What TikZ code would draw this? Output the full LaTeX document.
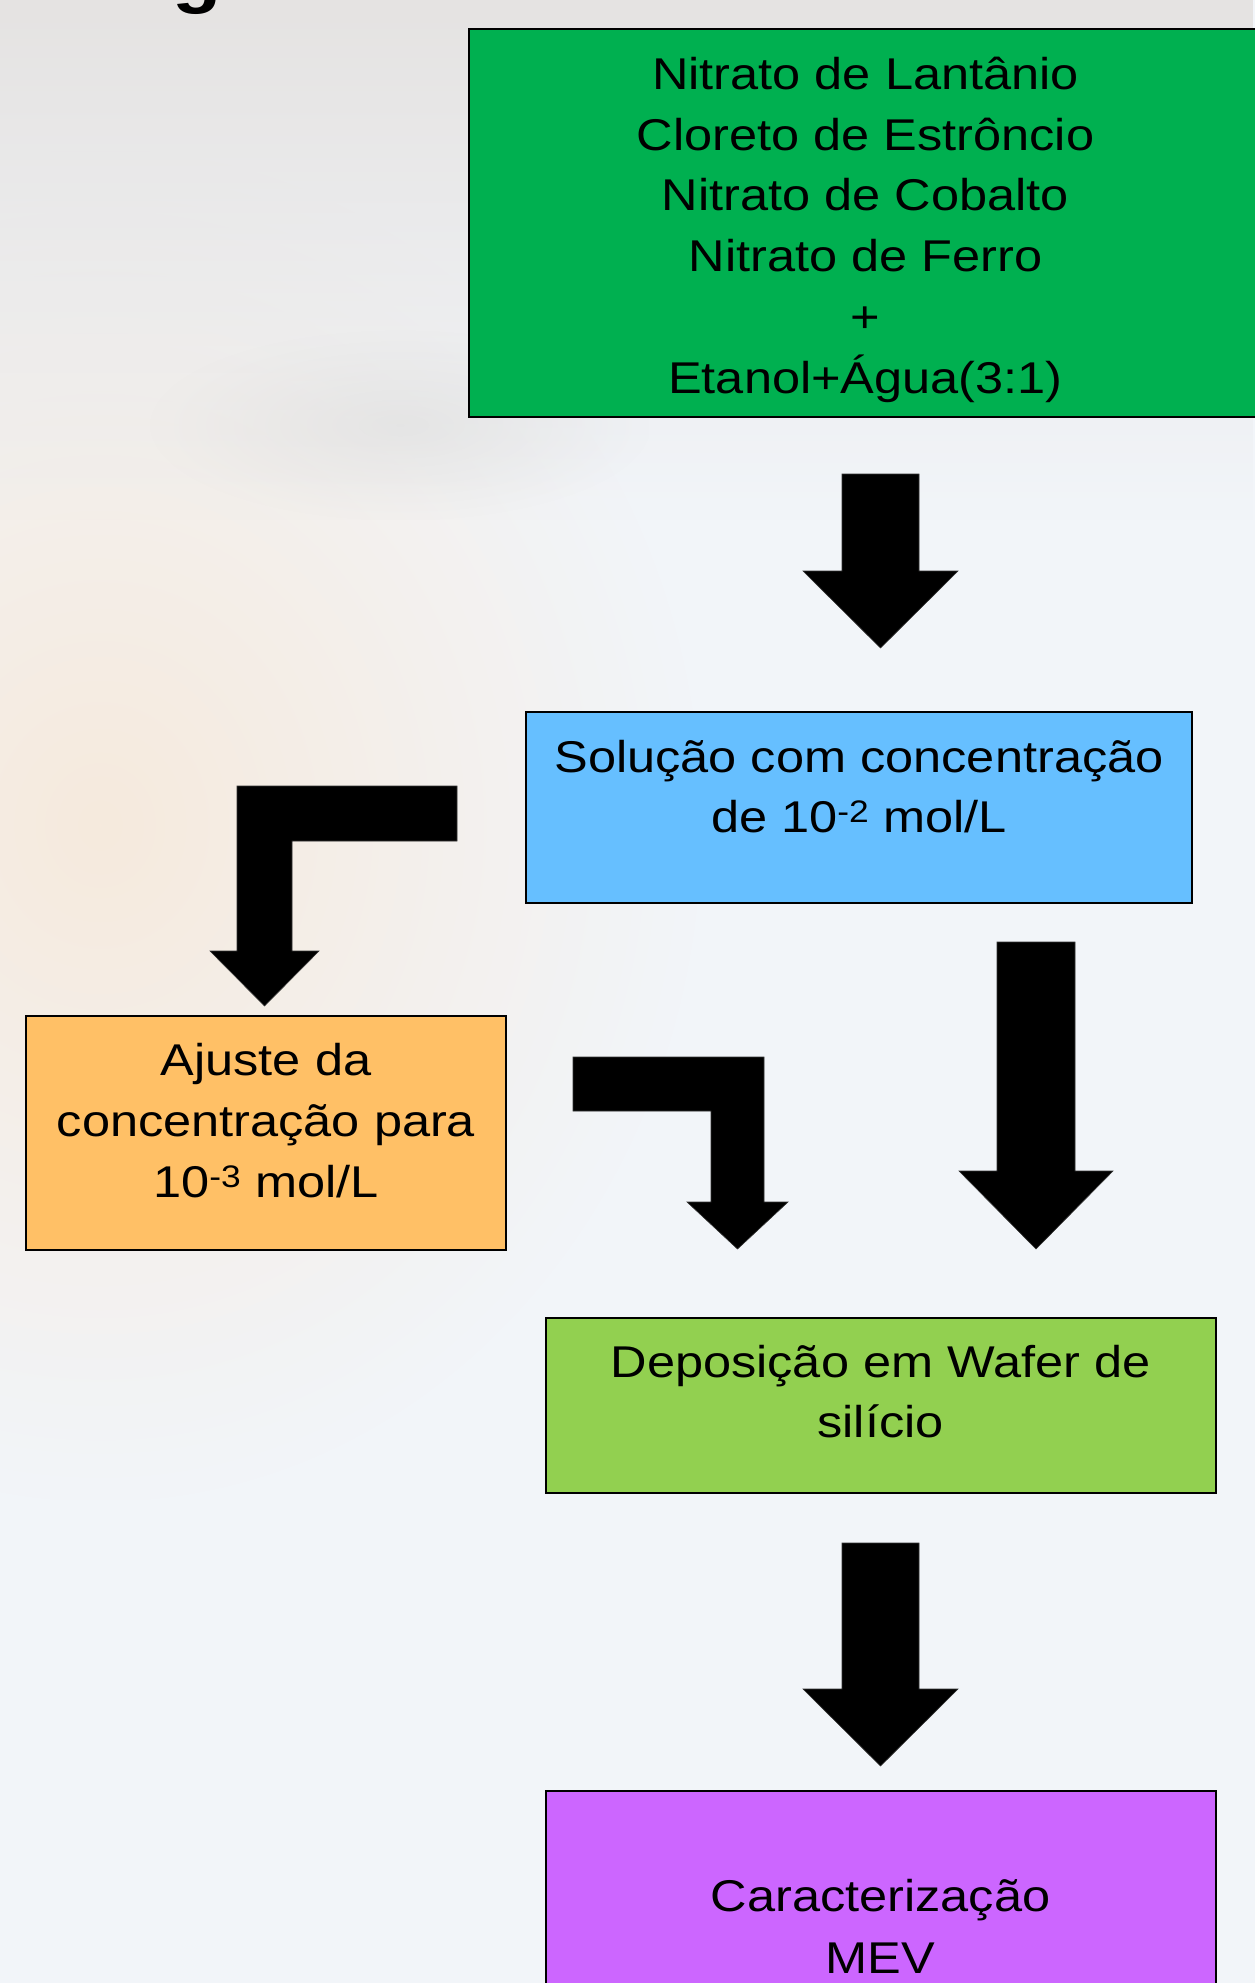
\documentclass[tikz,border=0pt]{standalone}
\usepackage{fontspec}
\setmainfont[FakeStretch=1.135]{Liberation Sans}
\usetikzlibrary{fadings}
\tikzfading[name=fadedown, top color=transparent!0, bottom color=transparent!100]
\tikzfading[name=fadeoval, inner color=transparent!0, outer color=transparent!100]
\definecolor{cgreen}{HTML}{00B050}
\definecolor{cblue}{HTML}{66BFFF}
\definecolor{corange}{HTML}{FFC066}
\definecolor{clime}{HTML}{92D050}
\definecolor{cpurple}{HTML}{CC66FF}
\definecolor{bgbase}{RGB}{242,245,249}
\definecolor{bgtop}{RGB}{229,227,226}
\definecolor{bgwarm}{RGB}{246,234,221}
\definecolor{bgsmudge}{RGB}{222,222,222}
\begin{document}
\begin{tikzpicture}[x=1pt,y=-1pt,
  box/.style={draw=black, line width=2pt, rectangle, inner sep=0pt},
  txt/.style={anchor=base, inner sep=0pt, font=\fontsize{44.5}{53}\selectfont},
  blockarrow/.style={fill=black, draw=black!80, line width=0.6pt, line join=miter}]
\useasboundingbox (0,0) rectangle (1255,1983);
\clip (0,0) rectangle (1255,1983);
% background
\fill[bgbase] (0,0) rectangle (1255,1983);
\fill[bgwarm, path fading=fadeoval] (-500,150) rectangle (700,1500);
\fill[bgtop, path fading=fadedown] (0,0) rectangle (1255,520);
\fill[bgsmudge, path fading=fadeoval, opacity=0.6] (150,330) rectangle (650,520);
% partial title at the top edge
\node[anchor=base west, inner sep=0pt, font=\fontsize{71}{80}\selectfont\bfseries] (title) at (-186,0) {Metodologia};
% boxes
\node[box, fill=cgreen, minimum width=793pt, minimum height=387pt] (b1) at (865.5,223) {};
\node[box, fill=cblue, minimum width=666pt, minimum height=191pt] (b2) at (859,807.5) {};
\node[box, fill=corange, minimum width=480pt, minimum height=234pt] (b3) at (266,1133) {};
\node[box, fill=clime, minimum width=670pt, minimum height=175pt] (b4) at (880.5,1405.5) {};
\node[box, fill=cpurple, minimum width=670pt, minimum height=280pt] (b5) at (880.5,1931) {};
% texts
\node[txt] (t11) at (865.5,89.5) {Nitrato de Lantânio};
\node[txt] (t12) at (865.5,150.2) {Cloreto de Estrôncio};
\node[txt] (t13) at (865.5,210.9) {Nitrato de Cobalto};
\node[txt] (t14) at (865.5,271.6) {Nitrato de Ferro};
\node[txt] (t15) at (865.5,332.3) {+};
\node[txt] (t16) at (865.5,393) {Etanol+Água(3:1)};
\node[txt] (t21) at (859,772) {Solução com concentração};
\node[txt] (t22) at (859,832) {de 10\textsuperscript{-2} mol/L};
\node[txt] (t31) at (266,1075) {Ajuste da};
\node[txt] (t32) at (266,1136) {concentração para};
\node[txt] (t33) at (266,1197) {10\textsuperscript{-3} mol/L};
\node[txt] (t41) at (880.5,1377.5) {Deposição em Wafer de};
\node[txt] (t42) at (880.5,1437) {silício};
\node[txt] (t51) at (880.5,1911) {Caracterização};
\node[txt] (t52) at (880.5,1973) {MEV};
% block arrows
\draw[blockarrow] (842,474) -- (919,474) -- (919,571) -- (958,571) -- (880.5,648) -- (803,571) -- (842,571) -- cycle;
\draw[blockarrow] (457,786) -- (237,786) -- (237,951) -- (210,951) -- (264.5,1006) -- (319,951) -- (292,951) -- (292,841) -- (457,841) -- cycle;
\draw[blockarrow] (573,1057) -- (764,1057) -- (764,1202) -- (788,1202) -- (737.5,1249) -- (687,1202) -- (711,1202) -- (711,1111) -- (573,1111) -- cycle;
\draw[blockarrow] (997,942) -- (1075,942) -- (1075,1171) -- (1113,1171) -- (1036,1249) -- (959,1171) -- (997,1171) -- cycle;
\draw[blockarrow] (842,1543) -- (919,1543) -- (919,1689) -- (958,1689) -- (880.5,1766) -- (803,1689) -- (842,1689) -- cycle;
\end{tikzpicture}
\end{document}
